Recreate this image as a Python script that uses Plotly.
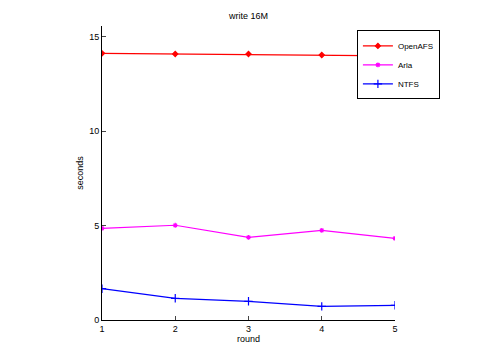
import plotly.graph_objects as go

rounds = [1, 2, 3, 4, 5]
openafs = [14.13, 14.10, 14.10, 14.04, 14.00]
arla = [4.86, 5.02, 4.38, 4.75, 4.33]
ntfs = [1.66, 1.15, 0.99, 0.72, 0.78]
series_names = ["OpenAFS", "Arla", "NTFS"]
yticks = [0, 5, 10, 15]

fig = go.Figure()
styles = [("red", "diamond", 4), ("magenta", "asterisk-open", 4), ("blue", "cross-thin-open", 6)]
for name, vals, (col, sym, sz) in zip(series_names, [openafs, arla, ntfs], styles):
    fig.add_trace(go.Scatter(
        x=rounds, y=vals, name=name, mode="lines+markers",
        line=dict(color=col, width=1.2),
        marker=dict(symbol=sym, size=sz, color=col,
                    line=dict(color=col, width=1.2)),
    ))

# page body has an 8px offset; compensate in margins
fig.update_layout(
    width=480, height=360,
    margin=dict(l=94, r=93, t=18, b=48),
    paper_bgcolor="white", plot_bgcolor="white",
    font=dict(family="Liberation Sans, Arial, sans-serif", size=9, color="black"),
    title=dict(text="write 16M", x=(94 + 387) / 2 / 480, xanchor="center",
               y=1 - 8 / 360, yanchor="middle", font=dict(size=9),
               automargin=False),
    showlegend=True,
    legend=dict(x=0.87, y=0.985, xanchor="left", yanchor="top",
                bgcolor="white", bordercolor="black", borderwidth=1,
                font=dict(size=8), tracegroupgap=0, itemwidth=30),
    xaxis=dict(range=[1, 5], tickvals=rounds, ticks="inside", ticklen=4,
               showline=True, linecolor="black", linewidth=1, showgrid=False,
               zeroline=False, automargin=False,
               title=dict(text="round", standoff=2, font=dict(size=9)),
               tickfont=dict(size=9)),
    yaxis=dict(range=[0, 15.58], tickvals=yticks, ticks="inside", ticklen=4,
               showline=True, linecolor="black", linewidth=1, showgrid=False,
               zeroline=False, automargin=False,
               title=dict(text="seconds", standoff=4, font=dict(size=9)),
               tickfont=dict(size=9)),
)

fig.write_html("out.html")
